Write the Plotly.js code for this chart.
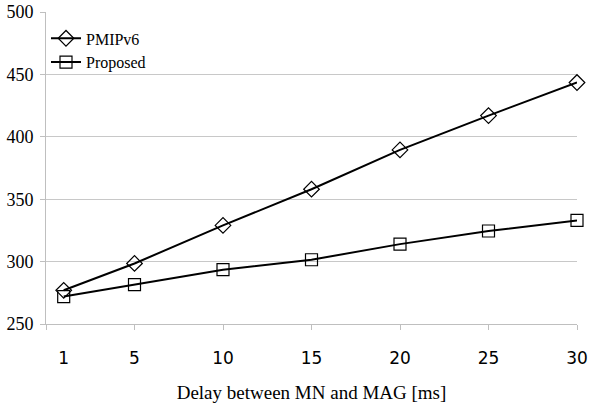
<!DOCTYPE html>
<html>
<head>
<meta charset="utf-8">
<script src="https://cdn.plot.ly/plotly-3.0.1.min.js"></script>
<style>html,body{margin:0;padding:0;background:#fff;}#chart{width:590px;height:409px;}</style>
</head>
<body>
<div id="chart"></div>
<script>
const delays = [1, 5, 10, 15, 20, 25, 30];
const pmipv6 = [277, 298.5, 329, 358, 389.5, 417, 443.5];
const proposed = [272, 281.5, 293.5, 301.5, 314, 324.5, 333];
const xTickVals = [1, 5, 10, 15, 20, 25, 30];
const xTickText = ['1', '5', '10', '15', '20', '25', '30'];
const xTickMarks = [0, 5, 10, 15, 20, 25, 30];

const serif = "Liberation Serif";
const sans = "DejaVu Sans";

const traces = [
  {
    x: delays, y: pmipv6, name: 'PMIPv6', type: 'scatter', mode: 'lines+markers',
    line: {color: '#000', width: 2},
    marker: {symbol: 'diamond-open', size: 12, color: '#000', line: {width: 1.2, color: '#000'}},
    cliponaxis: false
  },
  {
    x: delays, y: proposed, name: 'Proposed', type: 'scatter', mode: 'lines+markers',
    line: {color: '#000', width: 2},
    marker: {symbol: 'square-open', size: 12, color: '#000', line: {width: 1.2, color: '#000'}},
    cliponaxis: false
  }
];

const layout = {
  width: 590, height: 409,
  margin: {l: 46, r: 13, t: 12, b: 85},
  paper_bgcolor: '#fff', plot_bgcolor: '#fff',
  font: {family: serif, color: '#000', size: 18},
  showlegend: true,
  legend: {x: 0.0, y: 0.97, xanchor: 'left', yanchor: 'top', bgcolor: 'rgba(0,0,0,0)',
           font: {family: serif, size: 16, color: '#000'}, tracegroupgap: 0, itemwidth: 30},
  xaxis: {
    range: [0, 30], tickmode: 'array', tickvals: xTickMarks, showticklabels: false,
    ticks: 'outside', ticklen: 5, tickcolor: '#bfbfbf', tickwidth: 1,
    showline: true, linecolor: '#bfbfbf', linewidth: 1, showgrid: false, zeroline: false,
    title: {text: 'Delay between MN and MAG [ms]', font: {family: serif, size: 19, color: '#000'}, standoff: 56}
  },
  xaxis2: {
    overlaying: 'x', side: 'bottom', anchor: 'y', range: [0, 30],
    tickmode: 'array', tickvals: xTickVals, ticktext: xTickText,
    ticks: '', ticklabelstandoff: 22, showline: false, showgrid: false, zeroline: false,
    tickfont: {family: sans, size: 17, color: '#000'}
  },
  yaxis: {
    range: [250, 500], tickmode: 'linear', tick0: 250, dtick: 50,
    ticks: 'outside', ticklen: 5, tickcolor: '#bfbfbf', ticklabelstandoff: 3,
    showline: true, linecolor: '#bfbfbf', linewidth: 1,
    showgrid: true, gridcolor: '#c8c8c8', gridwidth: 1, zeroline: false
  }
};

// invisible helper trace so the label axis is drawn
traces.push({x: [0], y: [250], xaxis: 'x2', mode: 'markers', marker: {opacity: 0}, showlegend: false, hoverinfo: 'skip'});

Plotly.newPlot('chart', traces, layout, {displayModeBar: false, staticPlot: true});
</script>
</body>
</html>
